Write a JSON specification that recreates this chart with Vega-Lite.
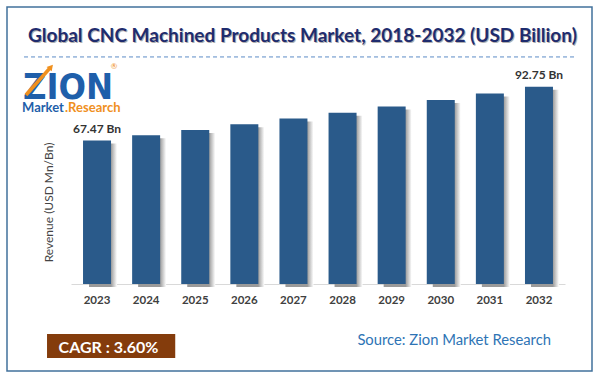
{
  "$schema": "https://vega.github.io/schema/vega-lite/v6.json",
  "width": 585,
  "height": 364,
  "autosize": {"type": "none"},
  "padding": {"left": 7, "top": 7, "right": 7, "bottom": 6},
  "background": "white",
  "config": {
    "view": {"stroke": "#41719c", "strokeWidth": 1.5},
    "font": "Lato"
  },
  "data": {
    "values": [
      {"year": "2023", "value": 67.47, "label": "67.47 Bn"},
      {"year": "2024", "value": 69.9, "label": ""},
      {"year": "2025", "value": 72.41, "label": ""},
      {"year": "2026", "value": 75.02, "label": ""},
      {"year": "2027", "value": 77.72, "label": ""},
      {"year": "2028", "value": 80.52, "label": ""},
      {"year": "2029", "value": 83.42, "label": ""},
      {"year": "2030", "value": 86.42, "label": ""},
      {"year": "2031", "value": 89.53, "label": ""},
      {"year": "2032", "value": 92.75, "label": "92.75 Bn"}
    ]
  },
  "layer": [
    {
      "mark": {
        "type": "bar",
        "xOffset": 6,
        "yOffset": 3,
        "color": {
          "gradient": "linear", "x1": 0, "x2": 1, "y1": 0, "y2": 0,
          "stops": [
            {"offset": 0, "color": "#9a9a9a"},
            {"offset": 0.78, "color": "#9a9a9a"},
            {"offset": 1, "color": "#ffffff"}
          ]
        }
      },
      "encoding": {
        "x": {
          "field": "year", "type": "nominal",
          "scale": {"domain": ["2023","2024","2025","2026","2027","2028","2029","2030","2031","2032"], "range": [64, 558], "paddingInner": 0.43, "paddingOuter": 0.245},
          "axis": {"orient": "bottom", "offset": -87, "title": null, "ticks": false, "labelPadding": 10, "labelFontSize": 11.5, "labelFontWeight": "bold", "labelColor": "#404040", "labelAngle": 0, "domainColor": "#d9d9d9", "grid": false}
        },
        "y": {
          "field": "value", "type": "quantitative",
          "scale": {"domain": [0, 100], "range": [277, 64.2], "nice": false, "zero": true},
          "axis": {"title": "Revenue (USD Mn/Bn)", "labels": false, "ticks": false, "domain": false, "grid": false, "titleX": 41, "titleY": 195, "titleAngle": -90, "titleFontSize": 12, "titleFontWeight": "normal", "titleColor": "#444444", "titleAlign": "center", "titleBaseline": "middle"}
        }
      }
    },
    {
      "mark": {"type": "bar", "color": "#2a5a8a"},
      "encoding": {
        "x": {"field": "year", "type": "nominal"},
        "y": {"field": "value", "type": "quantitative"}
      }
    },
    {
      "mark": {"type": "text", "fontSize": 12, "fontWeight": "bold", "color": "#333333", "baseline": "alphabetic", "dy": -7.5},
      "encoding": {
        "x": {"field": "year", "type": "nominal"},
        "y": {"field": "value", "type": "quantitative"},
        "text": {"field": "label"}
      }
    },
    {
      "data": {"values": [{}]},
      "layer": [
        {
          "mark": {"type": "text", "text": "Global CNC Machined Products Market, 2018-2032 (USD Billion)", "fontSize": 19, "fontWeight": "bold", "color": "#b0b0b0", "align": "center", "baseline": "alphabetic", "dx": 10, "dy": 1},
          "encoding": {"x": {"datum": "2027"}, "y": {"datum": 113.7}}
        },
        {
          "mark": {"type": "text", "text": "Global CNC Machined Products Market, 2018-2032 (USD Billion)", "fontSize": 19, "fontWeight": "bold", "color": "#1f2c6e", "align": "center", "baseline": "alphabetic", "dx": 9},
          "encoding": {"x": {"datum": "2027"}, "y": {"datum": 113.7}}
        },
        {
          "mark": {"type": "rule", "strokeDash": [4, 3], "color": "#5b8bc6", "strokeWidth": 1, "xOffset": -73, "x2Offset": 36},
          "encoding": {"x": {"datum": "2023"}, "x2": {"datum": "2032"}, "y": {"datum": 106.7}}
        },
        {
          "mark": {"type": "text", "text": "ZION", "font": "DejaVu Sans Condensed", "fontSize": 36, "fontWeight": "bold", "color": "#1f5faa", "align": "left", "baseline": "alphabetic", "xOffset": -74},
          "encoding": {"x": {"datum": "2023"}, "y": {"datum": 86.9}}
        },
        {
          "mark": {"type": "rule", "color": "#f0901e", "strokeWidth": 3.5, "xOffset": -71, "x2Offset": -47},
          "encoding": {"x": {"datum": "2023"}, "x2": {"datum": "2023"}, "y": {"datum": 88.8}, "y2": {"datum": 101.5}}
        },
        {
          "mark": {"type": "point", "shape": "triangle-up", "angle": 40, "size": 45, "filled": true, "color": "#f0901e", "opacity": 1, "xOffset": -46},
          "encoding": {"x": {"datum": "2023"}, "y": {"datum": 102}}
        },
        {
          "mark": {"type": "text", "text": "®", "fontSize": 8, "color": "#f0901e", "align": "center", "baseline": "middle", "xOffset": 17},
          "encoding": {"x": {"datum": "2023"}, "y": {"datum": 102}}
        },
        {
          "mark": {"type": "text", "text": "Market", "fontSize": 13, "fontWeight": "bold", "color": "#1f5faa", "align": "left", "baseline": "alphabetic", "xOffset": -75},
          "encoding": {"x": {"datum": "2023"}, "y": {"datum": 80.8}}
        },
        {
          "mark": {"type": "text", "text": ".Research", "fontSize": 13, "fontWeight": "bold", "color": "#f0901e", "align": "left", "baseline": "alphabetic", "xOffset": -32},
          "encoding": {"x": {"datum": "2023"}, "y": {"datum": 80.8}}
        },
        {
          "mark": {"type": "rect", "color": "#843c0c", "xOffset": -50, "x2Offset": -20},
          "encoding": {"x": {"datum": "2023"}, "x2": {"datum": "2025"}, "y": {"datum": -23.5}, "y2": {"datum": -34.8}}
        },
        {
          "mark": {"type": "text", "text": "CAGR :  3.60%", "fontSize": 16, "fontWeight": "bold", "color": "#ffffff", "align": "center", "baseline": "alphabetic", "xOffset": 11.5},
          "encoding": {"x": {"datum": "2023"}, "y": {"datum": -32.2}}
        },
        {
          "mark": {"type": "text", "text": "Source: Zion Market Research", "fontSize": 14.8, "color": "#2e74b5", "align": "right", "baseline": "alphabetic", "xOffset": 12},
          "encoding": {"x": {"datum": "2032"}, "y": {"datum": -28.7}}
        }
      ]
    }
  ]
}
